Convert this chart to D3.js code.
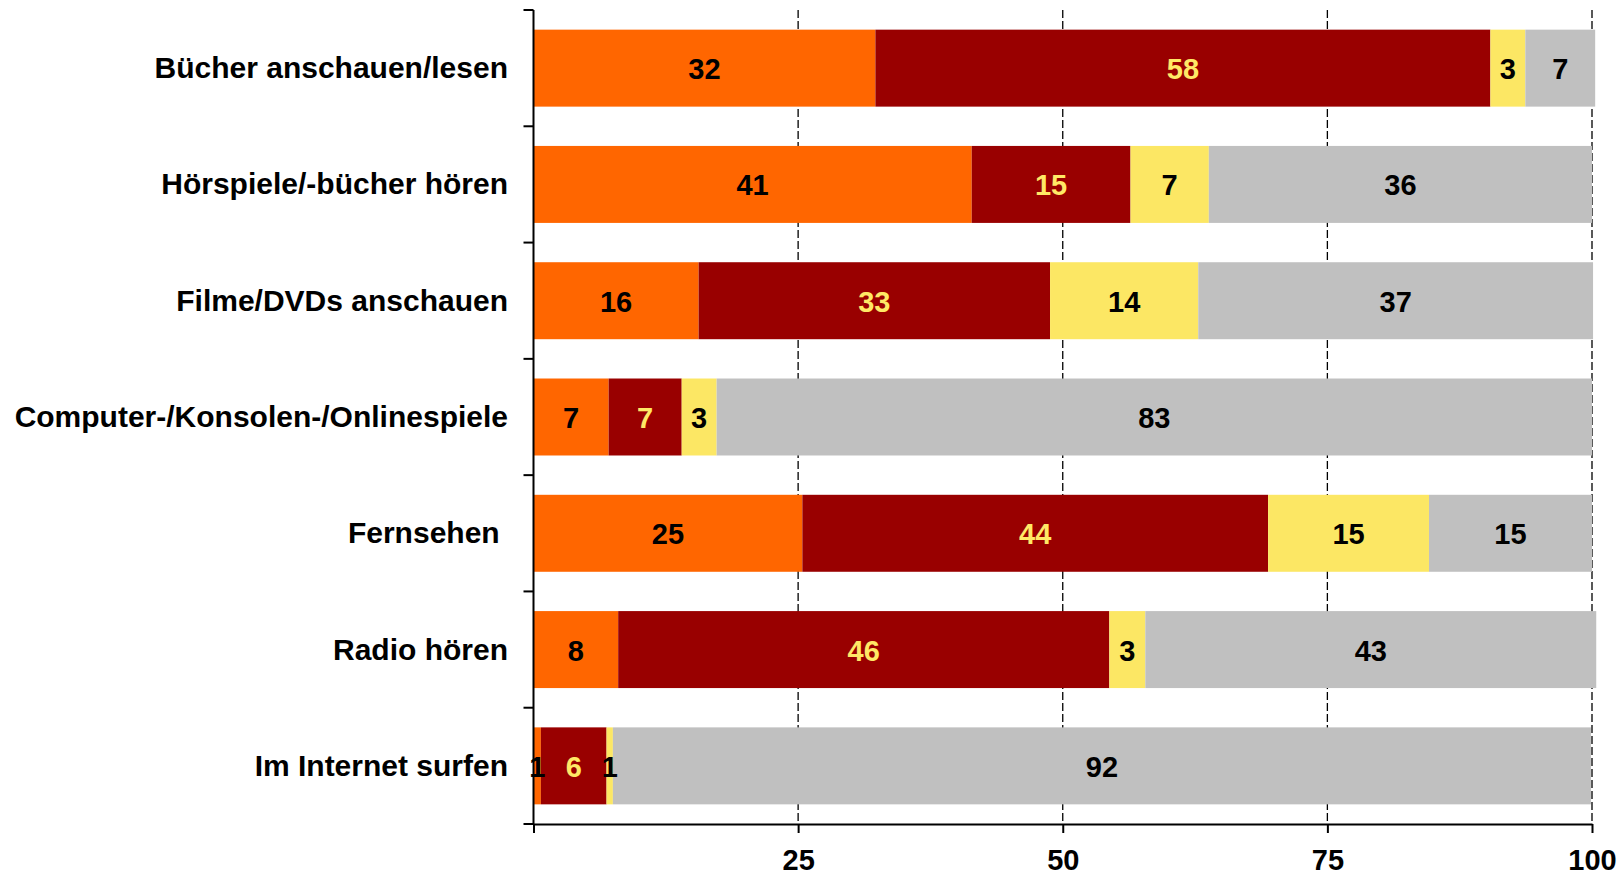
<!DOCTYPE html>
<html>
<head>
<meta charset="utf-8">
<script src="https://cdn.jsdelivr.net/npm/d3@7"></script>
<style>
  body { margin: 0; background: #fff; }
  svg { display: block; font-family: "Liberation Sans", Arial, sans-serif; font-weight: bold; }
  .cat { white-space: pre; }
</style>
</head>
<body>
<svg id="chart" width="1624" height="875"></svg>
<script>
// categories, top to bottom
const categories = [
  "Bücher anschauen/lesen",
  "Hörspiele/-bücher hören",
  "Filme/DVDs anschauen",
  "Computer-/Konsolen-/Onlinespiele",
  "Fernsehen ",
  "Radio hören",
  "Im Internet surfen"
];

// segment shares in % (labels are rounded)
const orange = [32.3, 41.4, 15.6, 7.1, 25.4, 8.0, 0.7];
const darkRed = [58.1, 15.0, 33.2, 6.9, 44.0, 46.4, 6.2];
const yellow = [3.3, 7.4, 14.0, 3.3, 15.2, 3.4, 0.6];
const grey = [6.6, 36.2, 37.3, 82.7, 15.4, 42.6, 92.4];

const xTicks = [0, 25, 50, 75, 100];

const series = [
  { values: orange, fill: "#ff6600", text: "#000" },
  { values: darkRed, fill: "#990000", text: "#ffe866" },
  { values: yellow, fill: "#fce764", text: "#000" },
  { values: grey, fill: "#c0c0c0", text: "#000" }
];

const svg = d3.select("#chart");
const plotTop = 10, plotBottom = 824, plotLeft = 533.5, plotRight = 1592;

const x = d3.scaleLinear().domain([0, 100]).range([plotLeft, plotRight]);
const y = d3.scaleBand()
  .domain(categories)
  .range([plotTop, plotBottom])
  .paddingInner(0.338)
  .paddingOuter(0.169);

// dashed gridlines (behind bars)
svg.append("g")
  .selectAll("line")
  .data(xTicks.filter(d => d > 0))
  .join("line")
  .attr("x1", d => x(d))
  .attr("x2", d => x(d))
  .attr("y1", plotTop)
  .attr("y2", plotBottom)
  .attr("stroke", "#000")
  .attr("stroke-width", 1.3)
  .attr("stroke-dasharray", "8,3");

// stacked bars
const rows = categories.map((c, i) => {
  let acc = 0;
  return series.map(s => {
    const v = s.values[i];
    const seg = { cat: c, x0: acc, x1: acc + v, v, fill: s.fill, text: s.text };
    acc += v;
    return seg;
  });
}).flat();

svg.append("g")
  .selectAll("rect")
  .data(rows)
  .join("rect")
  .attr("x", d => x(d.x0))
  .attr("y", d => y(d.cat))
  .attr("width", d => x(d.x1) - x(d.x0))
  .attr("height", y.bandwidth())
  .attr("fill", d => d.fill);

svg.append("g")
  .selectAll("text")
  .data(rows)
  .join("text")
  .attr("x", d => (x(d.x0) + x(d.x1)) / 2)
  .attr("y", d => y(d.cat) + y.bandwidth() / 2 + 11)
  .attr("text-anchor", "middle")
  .attr("font-size", "29px")
  .attr("fill", d => d.text)
  .text(d => Math.round(d.v));

// y axis with ticks at band boundaries
const yAxis = svg.append("g").attr("stroke", "#000").attr("stroke-width", 2);
yAxis.append("line")
  .attr("x1", plotLeft).attr("x2", plotLeft)
  .attr("y1", plotTop).attr("y2", plotBottom);
yAxis.selectAll(".tick")
  .data(d3.range(categories.length + 1))
  .join("line")
  .attr("x1", plotLeft - 10).attr("x2", plotLeft)
  .attr("y1", i => plotTop + i * y.step())
  .attr("y2", i => plotTop + i * y.step());

// category labels
svg.append("g")
  .selectAll("text")
  .data(categories)
  .join("text")
  .attr("class", "cat")
  .attr("x", 508)
  .attr("y", d => y(d) + y.bandwidth() / 2 + 10)
  .attr("text-anchor", "end")
  .attr("font-size", "30px")
  .attr("fill", "#000")
  .text(d => d);

// x axis
const xAxis = svg.append("g")
  .attr("transform", `translate(0,${plotBottom})`)
  .call(d3.axisBottom(x)
    .tickValues(xTicks)
    .tickFormat(d => d === 0 ? "" : d)
    .tickSize(9)
    .tickSizeOuter(0)
    .tickPadding(16));

xAxis.select(".domain").attr("stroke-width", 2);
xAxis.selectAll(".tick line").attr("stroke-width", 2);
xAxis.selectAll(".tick text")
  .attr("font-size", "29px")
  .attr("font-family", "Liberation Sans, Arial, sans-serif")
  .attr("font-weight", "bold")
  .attr("fill", "#000");
</script>
</body>
</html>
